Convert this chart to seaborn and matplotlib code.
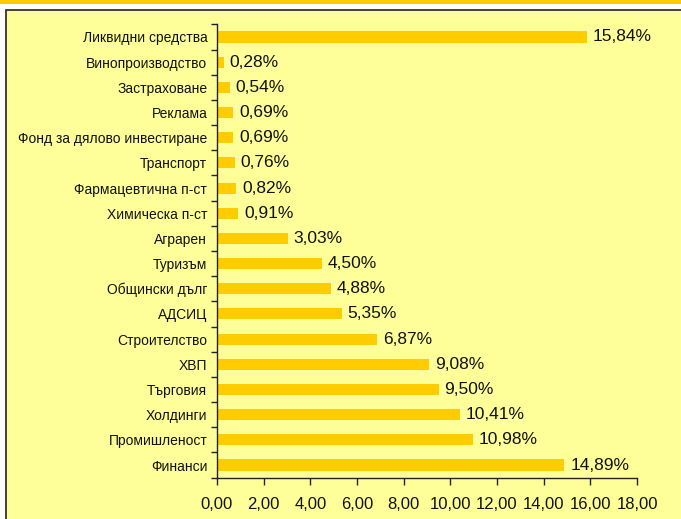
import matplotlib
matplotlib.use("Agg")
import matplotlib.pyplot as plt
import seaborn as sns
import pandas as pd
import numpy as np
from matplotlib.patches import Rectangle
from matplotlib.ticker import FuncFormatter, FixedLocator

# --- Data ---
sectors = [
    "Ликвидни средства", "Винопроизводство", "Застраховане", "Реклама",
    "Фонд за дялово инвестиране", "Транспорт", "Фармацевтична п-ст",
    "Химическа п-ст", "Аграрен", "Туризъм", "Общински дълг", "АДСИЦ",
    "Строителство", "ХВП", "Търговия", "Холдинги", "Промишленост", "Финанси",
]
shares = [15.84, 0.28, 0.54, 0.69, 0.69, 0.76, 0.82, 0.91, 3.03, 4.50,
          4.88, 5.35, 6.87, 9.08, 9.50, 10.41, 10.98, 14.89]
x_ticks = [0, 2, 4, 6, 8, 10, 12, 14, 16, 18]

df = pd.DataFrame({"sector": sectors, "share": shares})

BG = "#FFFF99"
BAR = "#FFCC00"

sns.set_style("white")
plt.rcParams["font.family"] = ["Liberation Sans", "DejaVu Sans"]

fig = plt.figure(figsize=(6.81, 5.19), dpi=100, facecolor="white")
W, H = 681, 519

# top strip and framed panel
fig.patches.append(Rectangle((0, 1 - 3.5 / H), 1, 3.5 / H, transform=fig.transFigure,
                             facecolor=BAR, edgecolor="none", zorder=-2))
fig.patches.append(Rectangle((5.5 / W, -0.05), 1.1, 1 - 9.5 / H + 0.05,
                             transform=fig.transFigure, facecolor=BG,
                             edgecolor="#222222", linewidth=1.2, zorder=-2))

ax = fig.add_axes([217 / W, 1 - 477.6 / H, 420 / W, (477.6 - 24.4) / H])
ax.set_zorder(1)
ax.set_facecolor(BG)

sns.barplot(data=df, x="share", y="sector", order=sectors, orient="h",
            color=BAR, width=0.44, saturation=1, linewidth=0, ax=ax)

for i, v in enumerate(shares):
    ax.text(v + 0.25, i, f"{v:.2f}".replace(".", ",") + "%", va="center",
            ha="left", fontsize=12.5, color="#111111")

ax.set_xlim(0, 18)
ax.set_ylim(len(sectors) - 0.5, -0.5)
ax.set_xticks(x_ticks)
ax.xaxis.set_major_formatter(FuncFormatter(lambda v, p: f"{v:.2f}".replace(".", ",")))
ax.set_xlabel("")
ax.set_ylabel("")

ax.yaxis.set_minor_locator(FixedLocator(np.arange(-0.5, len(sectors), 1)))
ax.tick_params(axis="y", which="major", length=0, pad=7, labelsize=10, labelcolor="#111111")
ax.tick_params(axis="y", which="minor", length=4, width=1, direction="out", color="#222222", left=True)
ax.tick_params(axis="x", which="major", length=5, width=1, direction="out", color="#222222",
               labelsize=12, labelcolor="#111111", pad=9, bottom=True)

for s in ["top", "right"]:
    ax.spines[s].set_visible(False)
for s in ["left", "bottom"]:
    ax.spines[s].set_color("#222222")
    ax.spines[s].set_linewidth(1)

fig.savefig("out.png", dpi=100, facecolor=fig.get_facecolor())
